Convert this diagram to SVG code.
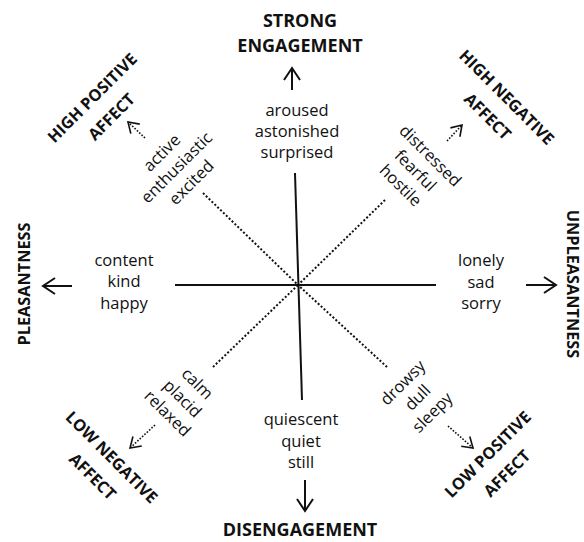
<svg xmlns="http://www.w3.org/2000/svg" width="584" height="542" viewBox="0 0 584 542">
  <style>
    .axis { fill: none; stroke: #111; stroke-width: 2; }
    .dot { fill: none; stroke: #111; stroke-width: 2; stroke-dasharray: 2 2; }
    .dotsm { fill: none; stroke: #111; stroke-width: 1.6; stroke-dasharray: 1.6 1.6; }
    .word { font-family: "Open Sans", "Noto Sans", sans-serif; font-size: 16.5px; fill: #111; text-anchor: middle; }
    .pole { font-family: "Open Sans", "Noto Sans", sans-serif; font-size: 18px; font-weight: bold; fill: #111; text-anchor: middle; }
    .diag { font-family: "Open Sans", "Noto Sans", sans-serif; font-size: 16.3px; font-weight: bold; fill: #111; text-anchor: middle; }
  </style>
  <defs>
    <marker id="head" markerUnits="userSpaceOnUse" markerWidth="30" markerHeight="30" viewBox="-15 -15 30 30" refX="0" refY="0" orient="auto">
      <path d="M-12,-8 L0,0 L-12,8" fill="none" stroke="#111" stroke-width="2"/>
    </marker>
    <marker id="headsm" markerUnits="userSpaceOnUse" markerWidth="24" markerHeight="24" viewBox="-12 -12 24 24" refX="0" refY="0" orient="auto">
      <path d="M-10,-6.5 L0,0 L-10,6.5" fill="none" stroke="#111" stroke-width="1.6"/>
    </marker>
  </defs>

  <rect width="584" height="542" fill="#fff"/>

  <!-- connectors: axes, diagonals and pointer arrows -->
  <g id="connectors">
    <line class="axis" x1="295" y1="173" x2="302" y2="400"/>
    <line class="axis" x1="175" y1="285" x2="436" y2="285"/>
    <line class="dot" x1="203" y1="193" x2="298" y2="285"/>
    <line class="dot" x1="385" y1="200" x2="298" y2="285"/>
    <line class="dot" x1="213" y1="367" x2="298" y2="285"/>
    <line class="dot" x1="387" y1="367" x2="298" y2="285"/>
    <line class="axis" x1="292" y1="90" x2="292" y2="68" marker-end="url(#head)"/>
    <line class="axis" x1="305" y1="480" x2="305" y2="511" marker-end="url(#head)"/>
    <line class="axis" x1="72" y1="286" x2="43" y2="286" marker-end="url(#head)"/>
    <line class="axis" x1="526" y1="285" x2="556" y2="285" marker-end="url(#head)"/>
    <line class="dotsm" x1="145" y1="138" x2="128" y2="122" marker-end="url(#headsm)"/>
    <line class="dotsm" x1="447" y1="141" x2="462" y2="125" marker-end="url(#headsm)"/>
    <line class="dotsm" x1="155" y1="425" x2="130" y2="448" marker-end="url(#headsm)"/>
    <line class="dotsm" x1="448" y1="426" x2="473" y2="448" marker-end="url(#headsm)"/>
  </g>

  <!-- axis poles -->
  <g id="strong-engagement">
    <text class="pole" x="300" y="27">STRONG</text>
    <text class="pole" x="300" y="52">ENGAGEMENT</text>
  </g>
  <g id="disengagement">
    <text class="pole" x="300" y="536">DISENGAGEMENT</text>
  </g>
  <g id="pleasantness">
    <text class="diag" transform="translate(30,284) rotate(-90)">PLEASANTNESS</text>
  </g>
  <g id="unpleasantness">
    <text class="diag" transform="translate(567,284) rotate(90)">UNPLEASANTNESS</text>
  </g>

  <!-- diagonal poles -->
  <g id="high-positive-affect" transform="translate(102,107.5) rotate(-45)">
    <text class="diag" x="0" y="-8">HIGH POSITIVE</text>
    <text class="diag" x="0" y="19">AFFECT</text>
  </g>
  <g id="high-negative-affect" transform="translate(497,107) rotate(45)">
    <text class="diag" x="0" y="-8">HIGH NEGATIVE</text>
    <text class="diag" x="0" y="19">AFFECT</text>
  </g>
  <g id="low-negative-affect" transform="translate(102,467) rotate(45)">
    <text class="diag" x="0" y="-8">LOW NEGATIVE</text>
    <text class="diag" x="0" y="19">AFFECT</text>
  </g>
  <g id="low-positive-affect" transform="translate(497.5,464) rotate(-45)">
    <text class="diag" x="0" y="-8">LOW POSITIVE</text>
    <text class="diag" x="0" y="19">AFFECT</text>
  </g>

  <!-- mood terms -->
  <g id="terms-engagement">
    <text class="word" x="297" y="116">aroused</text>
    <text class="word" x="297" y="137">astonished</text>
    <text class="word" x="297" y="158">surprised</text>
  </g>
  <g id="terms-disengagement">
    <text class="word" x="301" y="425">quiescent</text>
    <text class="word" x="301" y="447">quiet</text>
    <text class="word" x="301" y="468">still</text>
  </g>
  <g id="terms-pleasant">
    <text class="word" x="124" y="266">content</text>
    <text class="word" x="124" y="287">kind</text>
    <text class="word" x="124" y="309">happy</text>
  </g>
  <g id="terms-unpleasant">
    <text class="word" x="481" y="266">lonely</text>
    <text class="word" x="481" y="288">sad</text>
    <text class="word" x="481" y="309">sorry</text>
  </g>
  <g id="terms-high-positive" transform="translate(177,168) rotate(-45)">
    <text class="word" x="0" y="-16">active</text>
    <text class="word" x="0" y="5">enthusiastic</text>
    <text class="word" x="0" y="26">excited</text>
  </g>
  <g id="terms-high-negative" transform="translate(415,171) rotate(45)">
    <text class="word" x="0" y="-16">distressed</text>
    <text class="word" x="0" y="5">fearful</text>
    <text class="word" x="0" y="26">hostile</text>
  </g>
  <g id="terms-low-negative" transform="translate(182,399) rotate(45)">
    <text class="word" x="0" y="-16">calm</text>
    <text class="word" x="0" y="5">placid</text>
    <text class="word" x="0" y="26">relaxed</text>
  </g>
  <g id="terms-low-positive" transform="translate(418,398) rotate(-45)">
    <text class="word" x="0" y="-16">drowsy</text>
    <text class="word" x="0" y="5">dull</text>
    <text class="word" x="0" y="26">sleepy</text>
  </g>
</svg>
